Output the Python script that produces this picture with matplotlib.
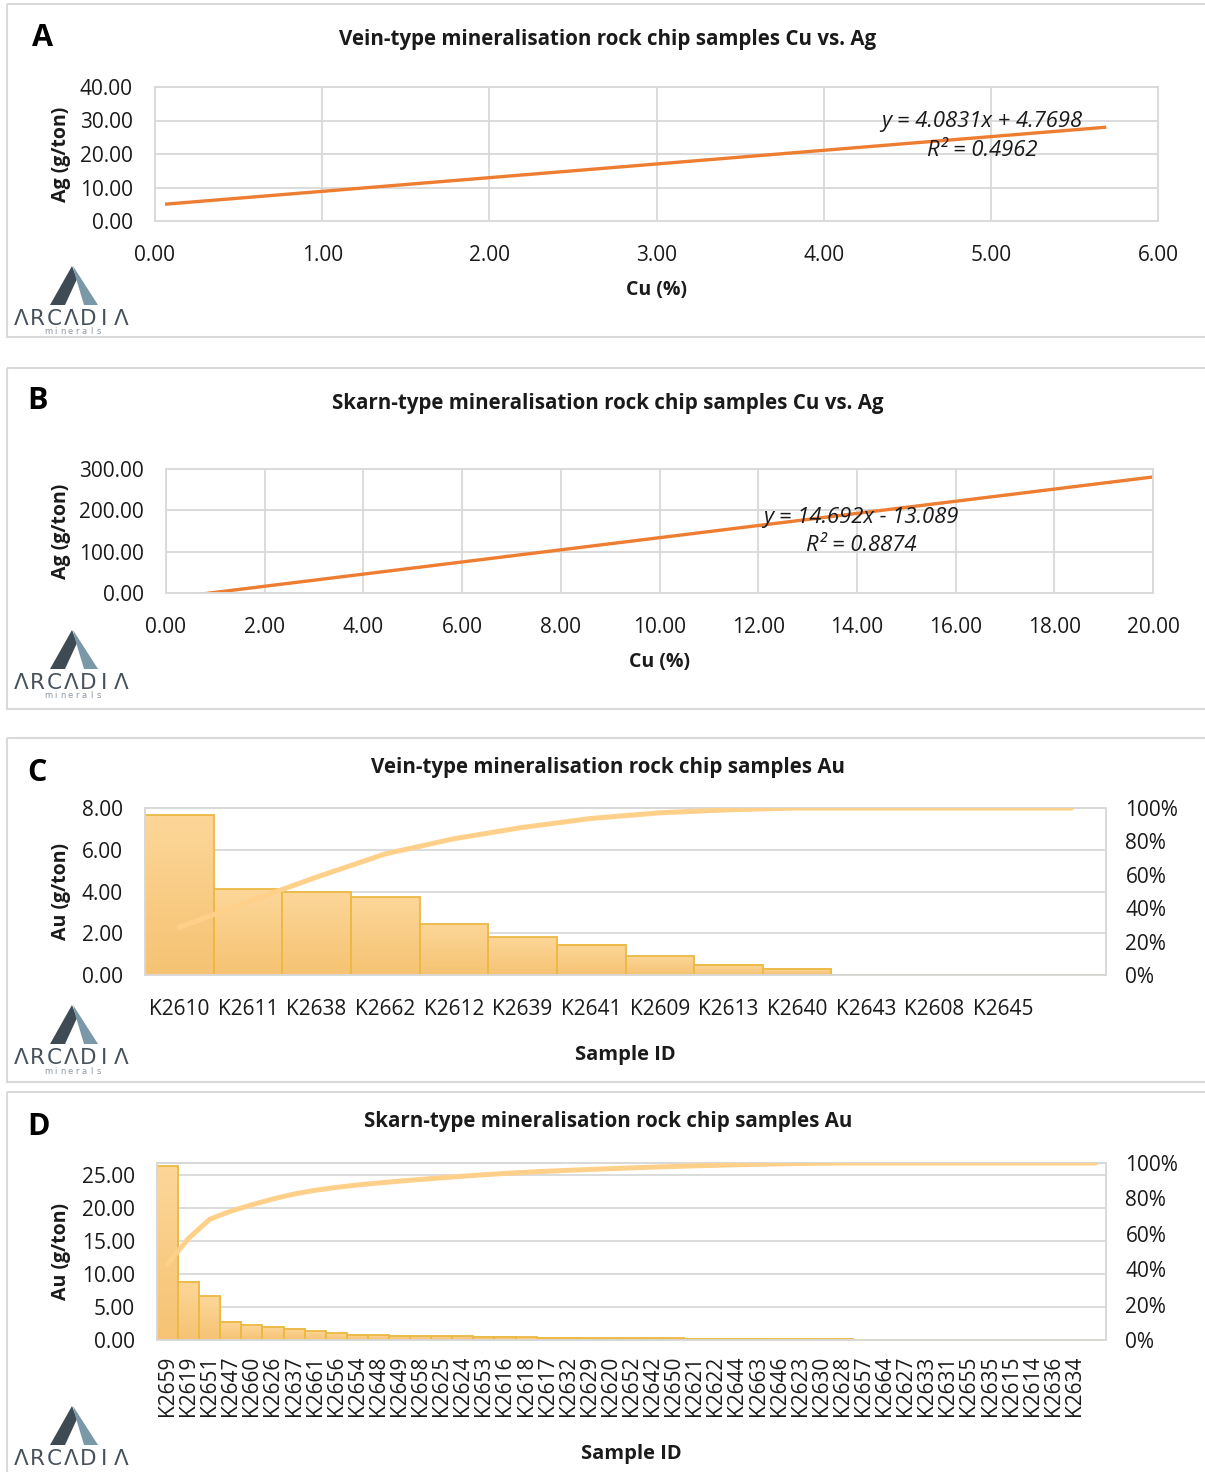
import matplotlib
matplotlib.use("Agg")
import matplotlib.pyplot as plt
import numpy as np
from matplotlib.patches import Rectangle, Polygon
from matplotlib.colors import LinearSegmentedColormap

# ---- data ----
# A: vein-type Cu vs Ag trendline
slope_a, icpt_a = 4.0831, 4.7698
r2_a = 0.4962
cu_range_a = [0.06, 5.69]

# B: skarn-type Cu vs Ag trendline
slope_b, icpt_b = 14.692, -13.089
r2_b = 0.8874
cu_range_b = [0.6, 20.0]

# C: vein-type Au per sample (sorted, pareto)
samples_c = ["K2610", "K2611", "K2638", "K2662", "K2612", "K2639", "K2641",
             "K2609", "K2613", "K2640", "K2643", "K2608", "K2645", ""]
au_c = [7.66, 4.11, 3.97, 3.73, 2.44, 1.82, 1.44, 0.91, 0.48, 0.29,
        0.0, 0.0, 0.0, 0.0]

# D: skarn-type Au per sample (sorted, pareto)
samples_d = ["K2659", "K2619", "K2651", "K2647", "K2660", "K2626", "K2637",
             "K2661", "K2656", "K2654", "K2648", "K2649", "K2658", "K2625",
             "K2624", "K2653", "K2616", "K2618", "K2617", "K2632", "K2629",
             "K2620", "K2652", "K2642", "K2650", "K2621", "K2622", "K2644",
             "K2663", "K2646", "K2623", "K2630", "K2628", "K2657", "K2664",
             "K2627", "K2633", "K2631", "K2655", "K2635", "K2615", "K2614",
             "K2636", "K2634", ""]
au_d = [26.3, 8.8, 6.6, 2.8, 2.2, 2.0, 1.7, 1.3, 1.0, 0.82, 0.71, 0.62,
        0.6, 0.56, 0.55, 0.5, 0.46, 0.41, 0.34, 0.32, 0.3, 0.28, 0.27,
        0.25, 0.23, 0.22, 0.2, 0.18, 0.16, 0.14, 0.12, 0.1, 0.08,
        0, 0, 0, 0, 0, 0, 0, 0, 0, 0, 0, 0]

plt.rcParams['font.family'] = ['Open Sans', 'DejaVu Sans']

W, H = 1205, 1472
fig = plt.figure(figsize=(W / 100, H / 100), dpi=100)

GRID = '#d9d9d9'
TXT = '#1a1a1a'
ORANGE = '#ed7d31'
PARETO = '#ffd08a'

# background layer in pixel coordinates (borders, titles, logos)
bg = fig.add_axes([0, 0, 1, 1], zorder=-1)
bg.set_xlim(0, W)
bg.set_ylim(H, 0)
bg.axis('off')


def px_axes(x0, y0, x1, y1):
    return fig.add_axes([x0 / W, 1 - y1 / H, (x1 - x0) / W, (y1 - y0) / H])


def ftext(x, y, s, **kw):
    # text on top of everything, pixel position
    fig.text(x / W, 1 - y / H, s, ha='center', va='center', **kw)


def style(ax, vgrid=True):
    ax.grid(True, axis='y', color=GRID, lw=1.3)
    if vgrid:
        ax.grid(True, axis='x', color=GRID, lw=1.3)
    ax.set_axisbelow(True)
    for s in ax.spines.values():
        s.set_color(GRID)
        s.set_linewidth(1.3)
    ax.tick_params(length=0, labelsize=15, colors=TXT)


def logo(y0, sub=True):
    bg.add_patch(Polygon([(72, y0), (50, y0 + 39), (65, y0 + 39), (77, y0 + 13)],
                         closed=True, color='#3e4a54', lw=0))
    bg.add_patch(Polygon([(73, y0), (98, y0 + 39), (84, y0 + 39), (75, y0 + 9)],
                         closed=True, color='#7b98a8', lw=0))
    for i, ch in enumerate('ΛRCΛDIΛ'):
        bg.text(21 + i * 16.7, y0 + 53, ch, ha='center', va='center',
                fontsize=15.5, color='#46515b', family=['DejaVu Sans'])
    if sub:
        for i, ch in enumerate('minerals'):
            bg.text(48 + i * 7.3, y0 + 66, ch, ha='center', va='center',
                    fontsize=6, color='#8a98a3', family=['DejaVu Sans'])


def panel(y0, y1, letter, lx, ly, title, ty):
    bg.add_patch(Rectangle((7, y0), 1215, y1 - y0, fill=False, ec=GRID, lw=1.5))
    bg.text(lx, ly, letter, ha='center', va='center', fontsize=22,
            fontweight='bold', color='black')
    bg.text(608, ty, title, ha='center', va='center', fontsize=14.8,
            fontweight='bold', color=TXT)


def pareto(ax, labels, vals, ymax, yticks, rot, lsize, lpad):
    x = np.arange(len(vals))
    cmap = LinearSegmentedColormap.from_list('bar', ['#f5c373', '#fdd698'])
    grad = np.linspace(0, 1, 64).reshape(-1, 1)
    bars = ax.bar(x, vals, width=1.0, facecolor='none', edgecolor='#ecb944',
                  lw=1.3, zorder=3)
    for b in bars:
        h = b.get_height()
        if h <= 0:
            continue
        ax.imshow(grad, cmap=cmap, origin='lower', aspect='auto', zorder=2,
                  extent=[b.get_x(), b.get_x() + b.get_width(), 0, h])
    ax.set_xlim(-0.5, len(vals) - 0.5)
    ax.set_ylim(0, ymax)
    ax.set_yticks(yticks)
    ax.set_yticklabels([f"{v:.2f}" for v in yticks])
    ax.set_xticks(x)
    ax.set_xticklabels(labels, rotation=rot, fontsize=lsize)
    style(ax, vgrid=False)
    ax.tick_params(axis='x', pad=lpad)
    ax.tick_params(axis='y', pad=16)

    cum = np.cumsum(vals) / np.sum(vals) * 100
    ax2 = ax.twinx()
    ax2.plot(x, cum, color=PARETO, lw=3.6, solid_capstyle='round', zorder=4)
    ax2.set_ylim(0, 100)
    ax2.set_yticks(np.arange(0, 101, 20))
    ax2.set_yticklabels([f"{v}%" for v in range(0, 101, 20)])
    ax2.tick_params(length=0, labelsize=15, colors=TXT, pad=14)
    for s in ax2.spines.values():
        s.set_color(GRID)
        s.set_linewidth(1.3)
    ax2.set_xlim(-0.5, len(vals) - 0.5)
    return ax2


# ---------- Panel A ----------
panel(4, 337, 'A', 42, 38, 'Vein-type mineralisation rock chip samples Cu vs. Ag', 40)
axA = px_axes(155, 87, 1158, 221)
xa = np.array(cu_range_a)
axA.plot(xa, slope_a * xa + icpt_a, color=ORANGE, lw=2.4, solid_capstyle='butt')
axA.set_xlim(0, 6)
axA.set_ylim(0, 40)
axA.set_xticks(np.arange(0, 6.01, 1))
axA.set_yticks(np.arange(0, 40.1, 10))
axA.xaxis.set_major_formatter('{x:.2f}')
axA.yaxis.set_major_formatter('{x:.2f}')
style(axA)
axA.tick_params(axis='x', pad=17)
axA.tick_params(axis='y', pad=16)
axA.set_ylabel('Ag (g/ton)', fontsize=14, fontweight='bold', color=TXT, labelpad=6)
axA.set_xlabel('Cu (%)', fontsize=14, fontweight='bold', color=TXT, labelpad=10)
ftext(982, 122, f'y = {slope_a}x + {icpt_a}', fontsize=15.8, style='italic', color=TXT)
ftext(982, 151, f'R² = {r2_a}', fontsize=15.8, style='italic', color=TXT)
logo(266)

# ---------- Panel B ----------
panel(368, 709, 'B', 37, 401, 'Skarn-type mineralisation rock chip samples Cu vs. Ag', 403)
axB = px_axes(166, 469, 1153, 593)
xb = np.array(cu_range_b)
axB.plot(xb, slope_b * xb + icpt_b, color=ORANGE, lw=2.4, solid_capstyle='butt')
axB.set_xlim(0, 20)
axB.set_ylim(0, 300)
axB.set_xticks(np.arange(0, 20.1, 2))
axB.set_yticks(np.arange(0, 301, 100))
axB.xaxis.set_major_formatter('{x:.2f}')
axB.yaxis.set_major_formatter('{x:.2f}')
style(axB)
axB.tick_params(axis='x', pad=17)
axB.tick_params(axis='y', pad=16)
axB.set_ylabel('Ag (g/ton)', fontsize=14, fontweight='bold', color=TXT, labelpad=6)
axB.set_xlabel('Cu (%)', fontsize=14, fontweight='bold', color=TXT, labelpad=10)
ftext(861, 517, f'y = {slope_b}x - {abs(icpt_b)}', fontsize=15.8, style='italic', color=TXT)
ftext(861, 545, f'R² = {r2_b}', fontsize=15.8, style='italic', color=TXT)
logo(630)

# ---------- Panel C ----------
panel(738, 1082, 'C', 37, 773, 'Vein-type mineralisation rock chip samples Au', 767)
axC = px_axes(145, 808, 1106, 975)
pareto(axC, samples_c, au_c, 8, np.arange(0, 8.01, 2), 0, 15, 17)
axC.set_ylabel('Au (g/ton)', fontsize=14, fontweight='bold', color=TXT, labelpad=8)
axC.set_xlabel('Sample ID', fontsize=14.5, fontweight='bold', color=TXT, labelpad=18)
logo(1005)

# ---------- Panel D ----------
panel(1092, 1490, 'D', 38, 1127, 'Skarn-type mineralisation rock chip samples Au', 1121)
axD = px_axes(157, 1163, 1106, 1340)
pareto(axD, samples_d, au_d, 26.8, np.arange(0, 25.1, 5), 90, 13.5, 11)
axD.set_ylabel('Au (g/ton)', fontsize=14, fontweight='bold', color=TXT, labelpad=8)
axD.set_xlabel('Sample ID', fontsize=14.5, fontweight='bold', color=TXT, labelpad=20)
logo(1406, sub=False)

fig.savefig('out.png', dpi=100)
